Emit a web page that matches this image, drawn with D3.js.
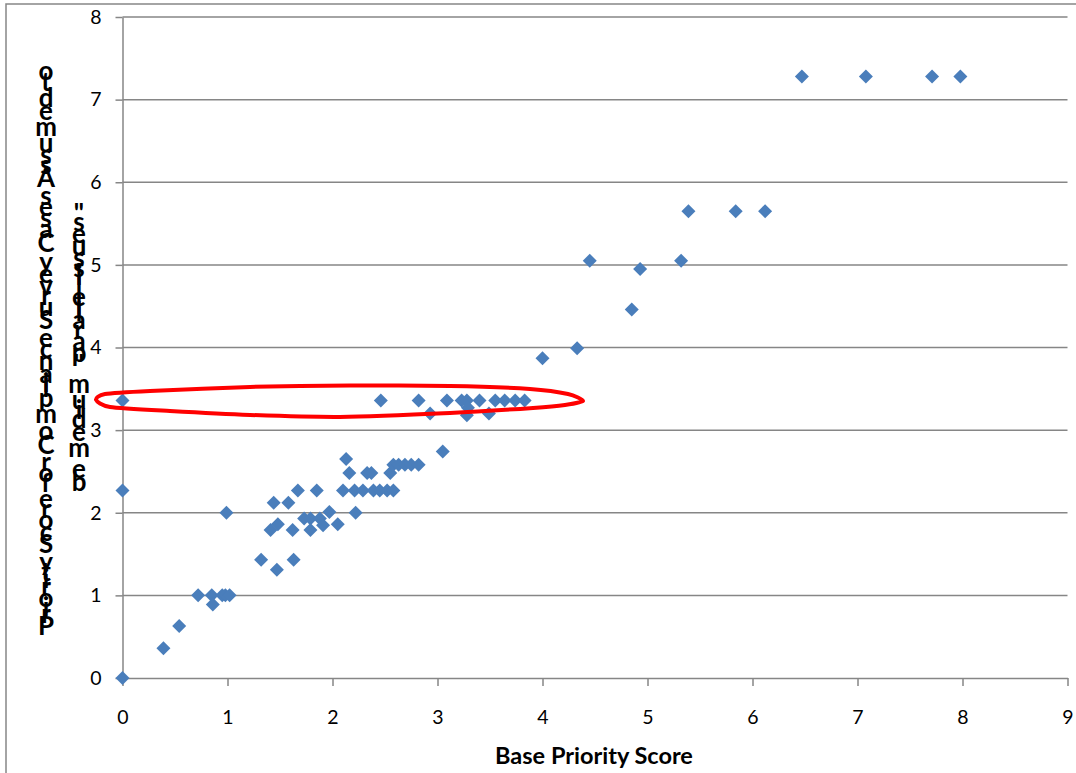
<!DOCTYPE html>
<html><head><meta charset="utf-8">
<script src="https://cdn.jsdelivr.net/npm/d3@7"></script>
<style>body{margin:0;background:#fff;overflow:hidden}</style>
</head><body>
<svg id="chart" width="1076" height="773"></svg>
<script>
// ---- data ----
const xTicks = [0,1,2,3,4,5,6,7,8,9];
const yTicks = [0,1,2,3,4,5,6,7,8];
const xTitle = "Base Priority Score";
const yTitleLines = ["Priority Score for Compliance Survey Cases Assumed to", "be medium \"parallel issues\""];
const basePriority = [0,0.39,0.54,0.72,0.85,0.86,0.95,0.98,1.02,0.99,0,0,
  1.32,1.63,1.47,1.41,1.48,1.44,1.58,1.62,1.73,1.79,1.79,1.88,1.91,1.97,2.05,2.22,1.67,1.85,
  2.10,2.21,2.29,2.39,2.45,2.52,2.58,
  2.13,2.16,2.33,2.37,2.55,2.58,2.63,2.69,2.75,2.82,3.05,
  2.46,2.82,2.93,3.09,3.23,3.28,3.29,3.28,3.40,3.49,3.55,3.64,3.74,3.83,
  4.00,4.33,4.45,4.85,4.93,5.32,5.39,5.84,6.12,6.47,7.08,7.71,7.98];
const adjustedPriority = [0,0.36,0.63,1.0,1.0,0.89,1.0,1.0,1.0,2.0,2.27,3.36,
  1.43,1.43,1.31,1.79,1.86,2.12,2.12,1.79,1.93,1.93,1.79,1.93,1.85,2.01,1.86,2.0,2.27,2.27,
  2.27,2.27,2.27,2.27,2.27,2.27,2.27,
  2.65,2.48,2.48,2.48,2.48,2.58,2.58,2.58,2.58,2.58,2.74,
  3.36,3.36,3.20,3.36,3.36,3.36,3.27,3.18,3.36,3.20,3.36,3.36,3.36,3.36,
  3.87,3.99,5.05,4.46,4.95,5.05,5.65,5.65,5.65,7.28,7.28,7.28,7.28];
// hand-drawn highlight loop, in data units
const loopX = [-0.252,-0.167,0.262,1.214,2.167,3.119,3.881,4.243,4.386,4.214,3.910,3.119,2.071,1.214,0.452,-0.119];
const loopY = [3.366,3.438,3.475,3.523,3.541,3.535,3.499,3.438,3.354,3.305,3.269,3.208,3.160,3.184,3.232,3.281];

// ---- chart ----
const svg = d3.select("#chart");
const grey = "#868686";
const font = "Lato, 'Open Sans', 'DejaVu Sans', sans-serif";

svg.append("rect").attr("x",6).attr("y",4).attr("width",1100).attr("height",800)
  .attr("fill","#fff").attr("stroke",grey).attr("stroke-width",1.5);

const x = d3.scaleLinear().domain([0,9]).range([122.5,1067.5]);
const y = d3.scaleLinear().domain([0,8]).range([678,17]);

// gridlines
svg.append("g").selectAll("line").data(yTicks.filter(d=>d>0)).join("line")
  .attr("x1",x(0)).attr("x2",x(9)).attr("y1",d=>y(d)).attr("y2",d=>y(d))
  .attr("stroke",grey).attr("stroke-width",1.5);

const yAxis = svg.append("g").attr("transform",`translate(${x(0)},0)`)
  .call(d3.axisLeft(y).tickValues(yTicks).tickSize(7).tickPadding(14).tickSizeOuter(0));
const xAxis = svg.append("g").attr("transform",`translate(0,${y(0)})`)
  .call(d3.axisBottom(x).tickValues(xTicks).tickSize(8).tickPadding(24).tickSizeOuter(0));
[xAxis,yAxis].forEach(a=>{
  a.select(".domain").attr("stroke",grey).attr("stroke-width",1.5);
  a.selectAll(".tick line").attr("stroke",grey).attr("stroke-width",1.5);
  a.selectAll(".tick text").attr("fill","#000").attr("font-family",font).attr("font-size",19.5);
});

// points
const pts = basePriority.map((b,i)=>({b, a: adjustedPriority[i]}));
const diamond = d3.symbol().type(d3.symbolSquare).size(98);
svg.append("g").selectAll("path").data(pts).join("path")
  .attr("d",diamond)
  .attr("transform",d=>`translate(${x(d.b)},${y(d.a)}) rotate(45)`)
  .attr("fill","#4a7ebb");

// highlight loop
const loop = loopX.map((v,i)=>[x(v), y(loopY[i])]);
svg.append("path").attr("d", d3.line().curve(d3.curveCardinalClosed.tension(0.3))(loop))
  .attr("fill","none").attr("stroke","#ff0000").attr("stroke-width",4);

// x title
svg.append("text").attr("x",(x(0)+x(9))/2 - 1).attr("y",764).attr("text-anchor","middle")
  .attr("font-family",font).attr("font-weight","bold").attr("font-size",23.5).text(xTitle);

// y title: rotated-layout with upright glyphs (as in the source)
const tg = svg.append("g").attr("font-family",font).attr("font-weight","bold");
const colX = [46, 79];
const cy = (y(0)+y(8))/2;
let fs = 20;
{
  const p = tg.append("text").attr("font-size",20).attr("y",-200).text(yTitleLines[0]);
  fs = 20*569/p.node().getComputedTextLength();
  p.remove();
}
yTitleLines.forEach((line,li)=>{
  const probe = tg.append("text").attr("font-size",fs).attr("x",0).attr("y",-200).text(line);
  const node = probe.node();
  const L = node.getComputedTextLength();
  [...line].forEach((ch,i)=>{
    if (ch===" ") return;
    const s = node.getStartPositionOfChar(i).x, e = node.getEndPositionOfChar(i).x;
    tg.append("text").attr("font-size",fs*1.12).attr("x",colX[li]).attr("y",cy + L/2 - (s+e)/2)
      .attr("text-anchor","middle").attr("dominant-baseline","central").text(ch);
  });
  probe.remove();
});
</script>
</body></html>
